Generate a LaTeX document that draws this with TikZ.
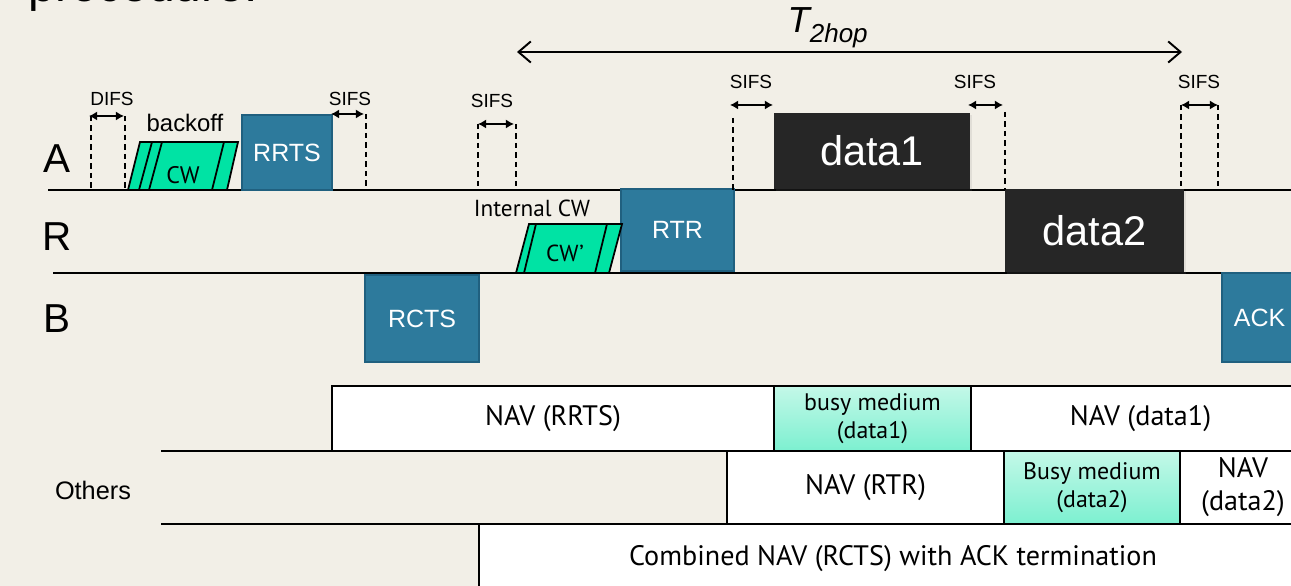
\documentclass[tikz,border=0pt]{standalone}
\usepackage{fontspec}
\setmainfont{Liberation Sans}
\newfontfamily\tahoma{PT Sans}
\usetikzlibrary{arrows.meta,shadows}
\definecolor{paper}{HTML}{F2EFE7}
\definecolor{pktblue}{HTML}{2D7A9C}
\definecolor{pktrim}{HTML}{20607F}
\definecolor{cwgreen}{HTML}{00E3A4}
\definecolor{dark}{HTML}{262626}
\definecolor{busytop}{HTML}{C4F8E8}
\definecolor{busybot}{HTML}{7CF0D0}

\begin{document}
\begin{tikzpicture}[x=0.01cm,y=-0.01cm,>=Stealth,
  pkt/.style={fill=pktblue,draw=pktrim,line width=0.6pt,text=white,inner sep=0pt,
    font=\fontsize{7.1}{8}\selectfont},
  datapkt/.style={fill=dark,text=white,inner sep=0pt,font=\fontsize{11.8}{13}\selectfont,
    drop shadow={opacity=0.15,shadow xshift=0.5pt,shadow yshift=-0.7pt}},
  nav/.style={fill=white,draw=black,line width=0.5pt,align=center,inner sep=0pt,
    font=\tahoma\fontsize{8}{9.4}\selectfont},
  busy/.style={nav,top color=busytop,bottom color=busybot,
    font=\tahoma\fontsize{6.8}{8}\selectfont},
  gap/.style={{Latex[length=2.3pt,width=2.6pt]}-{Latex[length=2.3pt,width=2.6pt]},line width=0.55pt},
  guide/.style={dash pattern=on 1.5pt off 1.2pt,line width=0.5pt},
  gaplbl/.style={font=\fontsize{5.4}{6}\selectfont},
  rowlbl/.style={font=\fontsize{11.5}{13}\selectfont},
  cwbox/.style={fill=cwgreen,draw=black,line width=0.5pt}]
\useasboundingbox (0,0) rectangle (1291,586);
\fill[paper] (0,0) rectangle (1291,586);
\clip (0,0) rectangle (1291,586);

% slide title, cut by the top edge
\node[anchor=base west,inner sep=0pt,font=\fontsize{13.6}{16}\selectfont] (title) at (28,2) {procedure:};

% whole exchange
\coordinate (t0) at (517,52);
\coordinate (t1) at (1182,52);
\draw[{Straight Barb[length=3.5pt,width=6pt]}-{Straight Barb[length=3.5pt,width=6pt]},line width=0.55pt] (t0) -- (t1);
\node[anchor=base west,inner sep=0pt,font=\fontsize{10.3}{12}\selectfont\itshape] (t2hop) at (787,33)
  {T\raisebox{-2.6pt}{\fontsize{7.4}{9}\selectfont 2hop}};

% stations
\node[rowlbl] (la) at (57,159) {A};
\node[rowlbl] (lr) at (57,237) {R};
\node[rowlbl] (lb) at (57,319) {B};
\draw[line width=0.5pt] (48,190) -- (1291,190);
\draw[line width=0.5pt] (53,273) -- (1291,273);

% DIFS and backoff
\draw[guide] (91,116) -- (91,190);
\draw[guide] (125,116) -- (125,190);
\draw[gap] (89,116) -- (124,116);
\node[gaplbl] (difs) at (112,99) {DIFS};
\node[font=\fontsize{6.8}{8}\selectfont] (backoff) at (185,123) {backoff};
\draw[cwbox] (128,190) -- (140,142) -- (238,142) -- (227,190) -- cycle;
\draw[line width=0.5pt] (139,190) -- (152,142) (149,190) -- (162,142) (212,190) -- (224,142);
\node[font=\tahoma\fontsize{6.8}{8}\selectfont] (cw) at (183,175) {CW};

% frames
\node[pkt,minimum width=0.90cm,minimum height=0.75cm] (rrts) at (287,152.5) {RRTS};
\node[pkt,minimum width=1.14cm,minimum height=0.87cm] (rcts) at (422,318.5) {RCTS};
\node[pkt,minimum width=1.13cm,minimum height=0.82cm] (rtr) at (677.5,230) {RTR};
\node[pkt,minimum width=0.75cm,minimum height=0.89cm] (ack) at (1259.5,317.5) {ACK};
\node[datapkt,minimum width=1.96cm,minimum height=0.76cm] (data1) at (872,151) {data1};
\node[datapkt,minimum width=1.79cm,minimum height=0.83cm] (data2) at (1094.5,230.5) {data2};

% SIFS after RRTS
\draw[guide] (366,114) -- (366,190);
\draw[gap] (331,114) -- (364,114);
\node[gaplbl] (sifs1) at (350,99) {SIFS};

% SIFS after RCTS
\draw[guide] (478,124) -- (478,190);
\draw[guide] (516,124) -- (516,190);
\draw[gap] (478,124) -- (514,124);
\node[gaplbl] (sifs2) at (492,101) {SIFS};

% internal contention at R
\node[font=\tahoma\fontsize{6.6}{8}\selectfont] (intcw) at (532,208) {Internal CW};
\draw[cwbox] (516,273) -- (529,224) -- (622,224) -- (609,273) -- cycle;
\draw[line width=0.5pt] (524,273) -- (536,224) (595,273) -- (607,224);
\node[font=\tahoma\fontsize{6.6}{8}\selectfont] (cwp) at (565,253) {CW’};

% SIFS after RTR
\draw[guide] (733,118) -- (733,190);
\draw[gap] (730,105) -- (773,105);
\node[gaplbl] (sifs3) at (751,82) {SIFS};

% SIFS after data1
\draw[guide] (1005,112) -- (1005,190);
\draw[gap] (968,105) -- (1003,105);
\node[gaplbl] (sifs4) at (975,82) {SIFS};

% SIFS after data2
\draw[guide] (1181,105) -- (1181,190);
\draw[guide] (1218,105) -- (1218,190);
\draw[gap] (1181,105) -- (1218,105);
\node[gaplbl] (sifs5) at (1199,82) {SIFS};

% what the other stations see
\node[font=\fontsize{7.2}{8}\selectfont] (others) at (93,490) {Others};
\draw[line width=0.5pt] (161,451) -- (1291,451);
\draw[line width=0.5pt] (161,524) -- (1291,524);
\node[nav,minimum width=4.42cm,minimum height=0.65cm] (navrrts) at (553,418.5) {NAV (RRTS)};
\node[busy,minimum width=1.97cm,minimum height=0.65cm] (busy1) at (872.5,418.5) {busy medium\\(data1)};
\node[nav,minimum width=3.39cm,minimum height=0.65cm] (navd1) at (1140.5,418.5) {NAV (data1)};
\node[nav,minimum width=2.77cm,minimum height=0.73cm] (navrtr) at (865.5,487.5) {NAV (RTR)};
\node[busy,minimum width=1.76cm,minimum height=0.73cm] (busy2) at (1092,487.5) {Busy medium\\(data2)};
\node[nav,minimum width=1.26cm,minimum height=0.73cm] (navd2) at (1243,487.5) {NAV\\(data2)};
\node[nav,minimum width=8.28cm,minimum height=0.76cm,text depth=0pt] (navrcts) at (893,562) {};
\node[font=\tahoma\fontsize{8}{9.4}\selectfont] (rctslbl) at (893,559) {Combined NAV (RCTS) with ACK termination};
\end{tikzpicture}
\end{document}
